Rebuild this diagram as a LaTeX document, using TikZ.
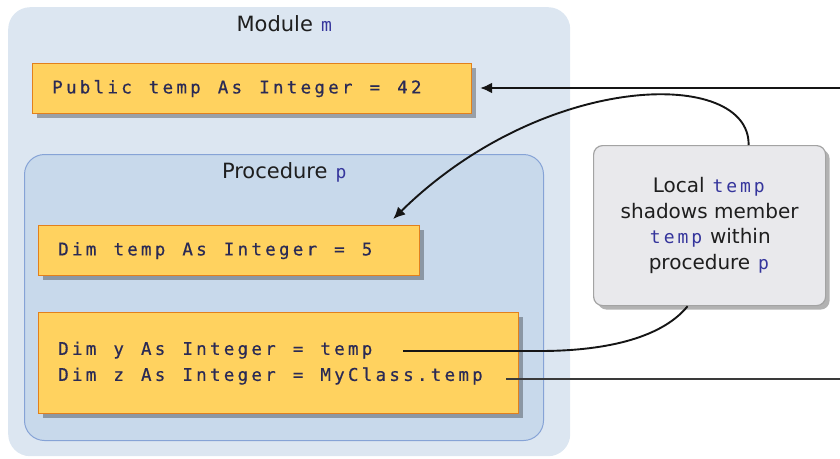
\documentclass[tikz,border=0pt]{standalone}
\usepackage{fontspec}
\setmainfont{DejaVu Sans}
\newfontfamily\codefont[FakeBold=0.5]{DejaVu Sans Mono}
\newfontfamily\identfont{DejaVu Sans Mono}
\usetikzlibrary{arrows.meta,shadows}

\definecolor{modfill}{HTML}{DCE6F1}
\definecolor{procfill}{HTML}{C8D9EB}
\definecolor{procline}{HTML}{86A3D6}
\definecolor{codefill}{HTML}{FFD25F}
\definecolor{codeline}{HTML}{E2801C}
\definecolor{codetext}{HTML}{2A2A55}
\definecolor{idblue}{HTML}{35359C}
\definecolor{notefill}{HTML}{E9E9EC}
\definecolor{noteline}{HTML}{A3A3A3}
\definecolor{textdark}{HTML}{1E1E1E}
\definecolor{wire}{HTML}{151515}
\definecolor{wiregray}{HTML}{3A3A3A}

% fixed-pitch code: every character sits in a cell of \monopitch
\newlength{\monopitch}
\setlength{\monopitch}{13.8pt}
\def\monoend{MONOEND}
\def\monoloop#1{\ifx#1\monoend\else\hbox to\monopitch{\hss#1\hss}\expandafter\monoloop\fi}
\newcommand{\mono}[1]{\leavevmode\monoloop#1\monoend}
% identifiers set inside running text
\newcommand{\vbident}[1]{{\identfont\fontsize{18}{25.7}\selectfont\color{idblue}\setlength{\monopitch}{13.8pt}\mono{#1}}}

\tikzset{
  scopebox/.style={rounded corners=22pt, inner sep=0pt},
  codebox/.style={draw=codeline, line width=1.2pt, fill=codefill,
    inner xsep=18pt, inner ysep=0pt, align=left, text=codetext,
    font=\codefont\fontsize{17.5}{26}\selectfont,
    drop shadow={shadow xshift=4pt, shadow yshift=-4pt, fill=black, opacity=0.3}},
  notebox/.style={draw=noteline, line width=1.2pt, fill=notefill,
    rounded corners=9pt, align=center, text=textdark, inner sep=0pt,
    font=\fontsize{20}{25.7}\selectfont,
    drop shadow={shadow xshift=4pt, shadow yshift=-4pt, fill=black, opacity=0.3}},
  title/.style={text=textdark, font=\fontsize{21}{24}\selectfont, inner sep=0pt},
  wireline/.style={draw=wire, line width=1.9pt},
  tip/.style={-{Latex[length=12pt,width=11pt]}},
}

\begin{document}
\begin{tikzpicture}[x=1pt, y=-1pt]
\useasboundingbox (0,0) rectangle (840,458);

% module and procedure scopes
\node[scopebox, fill=modfill, minimum width=562pt, minimum height=449pt,
      anchor=north west] (module) at (8,7) {};
\node[title] (modtitle) at (285,24) {Module \vbident{m}};
\node[scopebox, rounded corners=20pt, draw=procline, line width=1pt,
      fill=procfill, minimum width=519pt, minimum height=286pt,
      anchor=north west] (proc) at (24,154) {};
\node[title] (proctitle) at (285,172) {Procedure \vbident{p}};

% declarations and statements
\node[codebox, text width=403pt, minimum height=50pt, anchor=north west]
  (pub) at (32,63) {\mono{Public~temp~As~Integer~=~42}};
\node[codebox, text width=345pt, minimum height=50pt, anchor=north west]
  (dimtemp) at (38,225) {\mono{Dim~temp~As~Integer~=~5}};
\node[codebox, text width=444pt, minimum height=101pt, anchor=north west]
  (uses) at (38,312)
  {\mono{Dim~y~As~Integer~=~temp}\\\mono{Dim~z~As~Integer~=~MyClass.temp}};

% explanatory callout
\node[notebox, minimum width=232pt, minimum height=160pt, anchor=north west]
  (note) at (593,145)
  {Local \vbident{temp}\\shadows member\\\vbident{temp} within\\procedure \vbident{p}};

% reference points
\coordinate (inpub) at (840,88);
\coordinate (yref) at (403,351);
\coordinate (ybend) at (540,351);
\coordinate (zref) at (506,379);
\coordinate (outz) at (840,379);

% connectors
\draw[wireline, tip] (inpub) -- ([xshift=8pt]pub.east |- inpub);
\draw[wireline, tip] ([xshift=39pt]note.north)
  .. controls (750,68) and (545,70) .. ([xshift=-27pt,yshift=6pt]dimtemp.north east);
\draw[wireline] (yref) -- (ybend)
  .. controls (600,351) and (660,340) .. ([xshift=-22pt]note.south);
\draw[draw=wiregray, line width=2.6pt] (zref) -- (outz);
\end{tikzpicture}
\end{document}
